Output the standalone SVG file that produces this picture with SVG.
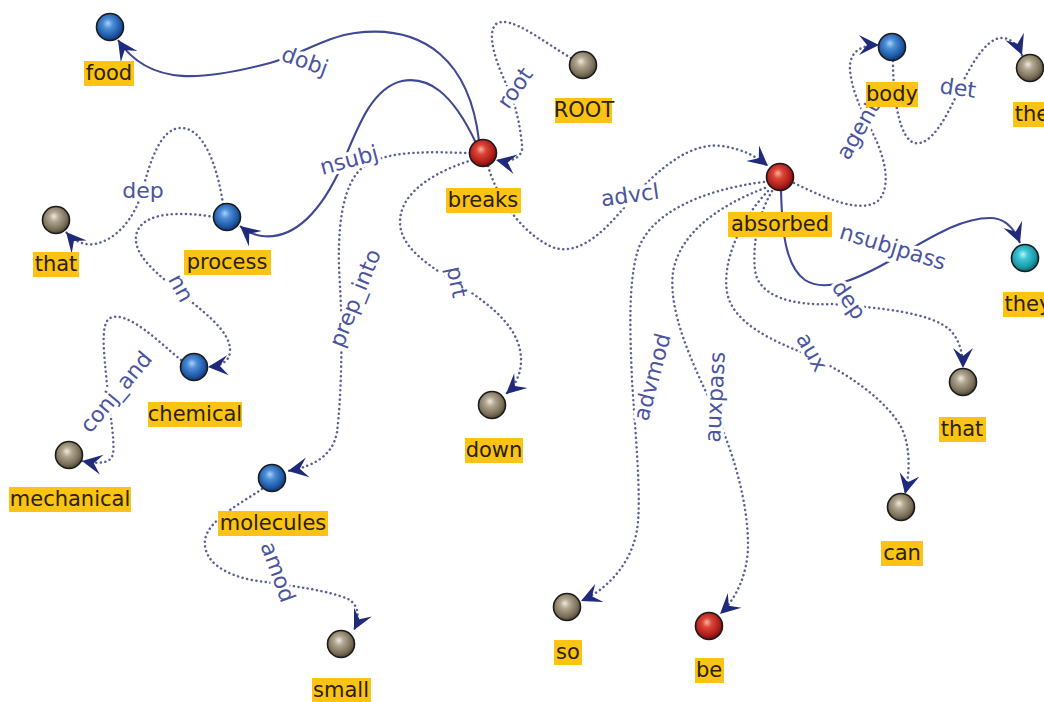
<svg xmlns="http://www.w3.org/2000/svg" width="1044" height="702" viewBox="0 0 1044 702">
  <style>
    .e { fill: none; stroke: #5a6098; stroke-width: 2.5; stroke-dasharray: 0.1 4.6; stroke-linecap: round; }
    .s { fill: none; stroke: #3f4993; stroke-width: 2.1; }
    .el { font-family: "DejaVu Sans", sans-serif; font-size: 22px; fill: #4a549f; text-anchor: middle; dominant-baseline: central; stroke: #ffffff; stroke-width: 7; stroke-linejoin: round; paint-order: stroke; }
    .ball { stroke: #1b1b1b; stroke-width: 1.6; }
    .lb { fill: #fbc314; }
    .lt { font-family: "DejaVu Sans", sans-serif; font-size: 21px; fill: #2a2200; text-anchor: middle; dominant-baseline: central; }
  </style>
  <defs>
    <radialGradient id="gBlue" cx="0.45" cy="0.42" r="0.6" fx="0.42" fy="0.36">
      <stop offset="0" stop-color="#a9d3f7"/>
      <stop offset="0.3" stop-color="#4d8dd6"/>
      <stop offset="0.75" stop-color="#1d58a6"/>
      <stop offset="1" stop-color="#0e326e"/>
    </radialGradient>
    <radialGradient id="gTan" cx="0.45" cy="0.42" r="0.6" fx="0.42" fy="0.36">
      <stop offset="0" stop-color="#f0e9dc"/>
      <stop offset="0.3" stop-color="#b1a690"/>
      <stop offset="0.75" stop-color="#7a6e58"/>
      <stop offset="1" stop-color="#463e2e"/>
    </radialGradient>
    <radialGradient id="gRed" cx="0.45" cy="0.42" r="0.6" fx="0.42" fy="0.36">
      <stop offset="0" stop-color="#f7b2a4"/>
      <stop offset="0.3" stop-color="#dc4636"/>
      <stop offset="0.75" stop-color="#ad1c1c"/>
      <stop offset="1" stop-color="#650808"/>
    </radialGradient>
    <radialGradient id="gTeal" cx="0.45" cy="0.42" r="0.6" fx="0.42" fy="0.36">
      <stop offset="0" stop-color="#b4f5f8"/>
      <stop offset="0.3" stop-color="#3fc6d6"/>
      <stop offset="0.75" stop-color="#1a97a7"/>
      <stop offset="1" stop-color="#0a5963"/>
    </radialGradient>
    <!-- barbed arrowhead, tip at the origin -->
    <marker id="arr" viewBox="-21 -11 22 22" refX="0" refY="0" markerWidth="22" markerHeight="22" markerUnits="userSpaceOnUse" orient="auto">
      <path d="M0,0 L-20,-10 L-12,0 L-20,10 Z" fill="#1f2a7a"/>
    </marker>
  </defs>

  <rect width="1044" height="702" fill="#ffffff"/>

  <!-- dependency arcs -->
  <g id="edges">
    <path class="s" marker-end="url(#arr)" d="M479,141 C470,62 425,24 355,33 C325,37 300,55 270,63 C205,80 150,88 118,40"/>
    <path class="s" marker-end="url(#arr)" d="M476,143 C452,92 428,76 402,81 C372,88 358,126 342,165 C322,210 295,240 262,236 C253,235 246,231 240,226"/>
    <path class="e" marker-end="url(#arr)" d="M223,204 C218,170 205,128 181,128 C160,128 150,162 142,192 C134,220 115,240 95,244 C83,246 73,240 66,232"/>
    <path class="e" marker-end="url(#arr)" d="M214,217 C185,212 140,210 136,236 C134,254 153,270 172,286 C198,308 232,330 230,352 C229,362 220,366 208,367"/>
    <path class="e" marker-end="url(#arr)" d="M181,360 C160,343 128,310 110,318 C100,324 104,352 107,385 C110,415 115,440 113,454 C111,464 98,464 82,461"/>
    <path class="e" marker-end="url(#arr)" d="M571,58 C545,43 510,14 496,24 C486,34 496,62 507,86 C516,105 520,125 522,145 C524,158 510,163 496,160"/>
    <path class="e" marker-end="url(#arr)" d="M488,166 C496,195 520,232 552,247 C582,258 610,225 632,198 C660,168 690,142 722,146 C742,149 756,156 768,166"/>
    <path class="e" marker-end="url(#arr)" d="M470,153 C430,152 390,150 366,165 C342,180 336,230 340,285 C343,340 341,400 337,432 C333,455 315,466 288,471"/>
    <path class="e" marker-end="url(#arr)" d="M472,160 C440,170 400,190 400,222 C400,248 430,266 455,282 C480,298 514,320 520,350 C524,370 516,385 506,394"/>
    <path class="e" marker-end="url(#arr)" d="M262,489 C240,504 208,520 205,540 C203,560 222,574 252,580 C290,586 330,590 350,600 C360,608 359,620 354,630"/>
    <path class="e" marker-end="url(#arr)" d="M794,183 C825,198 862,215 879,200 C891,186 885,160 876,140 C866,118 852,95 850,70 C849,52 860,45 879,45"/>
    <path class="e" marker-end="url(#arr)" d="M893,61 C893,100 900,140 915,143 C931,146 946,118 958,92 C970,66 985,40 1000,38 C1010,37 1018,45 1022,55"/>
    <path class="s" marker-end="url(#arr)" d="M781,190 C782,230 785,266 805,280 C826,294 860,278 895,258 C930,238 960,218 990,218 C1006,218 1015,230 1020,243"/>
    <path class="e" marker-end="url(#arr)" d="M772,191 C760,212 752,240 755,270 C758,296 792,306 832,304 C880,308 930,312 950,330 C960,340 963,355 963,368"/>
    <path class="e" marker-end="url(#arr)" d="M768,191 C740,220 722,262 727,292 C732,322 770,340 806,354 C842,370 882,396 900,425 C911,445 910,472 905,494"/>
    <path class="e" marker-end="url(#arr)" d="M765,188 C720,205 680,232 673,272 C668,312 692,362 712,405 C732,448 748,500 748,545 C748,575 735,600 720,614"/>
    <path class="e" marker-end="url(#arr)" d="M764,182 C700,190 650,214 638,250 C628,282 630,332 632,380 C635,430 642,500 637,530 C631,565 606,590 581,601"/>

    <text class="el" transform="translate(305,61) rotate(20)">dobj</text>
    <text class="el" transform="translate(349,160) rotate(-15)">nsubj</text>
    <text class="el" transform="translate(143,190)">dep</text>
    <text class="el" transform="translate(181,288) rotate(62)">nn</text>
    <text class="el" transform="translate(116,392) rotate(-50)">conj_and</text>
    <text class="el" transform="translate(515,88) rotate(-55)">root</text>
    <text class="el" transform="translate(630,195) rotate(-8)">advcl</text>
    <text class="el" transform="translate(355,298) rotate(-68)">prep_into</text>
    <text class="el" transform="translate(457,282) rotate(78)">prt</text>
    <text class="el" transform="translate(278,572) rotate(70)">amod</text>
    <text class="el" transform="translate(858,130) rotate(-60)">agent</text>
    <text class="el" transform="translate(958,88) rotate(8)">det</text>
    <text class="el" transform="translate(893,247) rotate(17)">nsubjpass</text>
    <text class="el" transform="translate(849,300) rotate(55)">dep</text>
    <text class="el" transform="translate(812,352) rotate(60)">aux</text>
    <text class="el" transform="translate(715,397) rotate(-87)">auxpass</text>
    <text class="el" transform="translate(652,377) rotate(-75)">advmod</text>
  </g>

  <!-- word nodes -->
  <g id="n-food"><circle class="ball" cx="110" cy="27" r="13.5" fill="url(#gBlue)"/><rect class="lb" x="84" y="61" width="50" height="25"/><text class="lt" x="109" y="73">food</text></g>
  <g id="n-root"><circle class="ball" cx="583" cy="65" r="13.5" fill="url(#gTan)"/><rect class="lb" x="555" y="98" width="57" height="25"/><text class="lt" x="584" y="110">ROOT</text></g>
  <g id="n-breaks"><circle class="ball" cx="483" cy="153" r="13.5" fill="url(#gRed)"/><rect class="lb" x="446" y="188" width="75" height="25"/><text class="lt" x="483" y="200">breaks</text></g>
  <g id="n-body"><circle class="ball" cx="892" cy="47" r="13.5" fill="url(#gBlue)"/><rect class="lb" x="866" y="82" width="52" height="25"/><text class="lt" x="892" y="94">body</text></g>
  <g id="n-the"><circle class="ball" cx="1030" cy="68" r="13.5" fill="url(#gTan)"/><rect class="lb" x="1013" y="102" width="40" height="25"/><text class="lt" x="1032" y="114">the</text></g>
  <g id="n-that1"><circle class="ball" cx="56" cy="220" r="13.5" fill="url(#gTan)"/><rect class="lb" x="33" y="252" width="46" height="25"/><text class="lt" x="56" y="264">that</text></g>
  <g id="n-process"><circle class="ball" cx="227" cy="217" r="13.5" fill="url(#gBlue)"/><rect class="lb" x="184" y="250" width="87" height="25"/><text class="lt" x="227" y="262">process</text></g>
  <g id="n-absorbed"><circle class="ball" cx="780" cy="177" r="13.5" fill="url(#gRed)"/><rect class="lb" x="728" y="212" width="104" height="25"/><text class="lt" x="780" y="224">absorbed</text></g>
  <g id="n-they"><circle class="ball" cx="1025" cy="258" r="13.5" fill="url(#gTeal)"/><rect class="lb" x="1003" y="292" width="50" height="25"/><text class="lt" x="1028" y="304">they</text></g>
  <g id="n-chemical"><circle class="ball" cx="194" cy="367" r="13.5" fill="url(#gBlue)"/><rect class="lb" x="148" y="402" width="94" height="25"/><text class="lt" x="195" y="414">chemical</text></g>
  <g id="n-mechanical"><circle class="ball" cx="69" cy="455" r="13.5" fill="url(#gTan)"/><rect class="lb" x="9" y="487" width="122" height="25"/><text class="lt" x="70" y="499">mechanical</text></g>
  <g id="n-down"><circle class="ball" cx="492" cy="405" r="13.5" fill="url(#gTan)"/><rect class="lb" x="465" y="438" width="58" height="25"/><text class="lt" x="494" y="450">down</text></g>
  <g id="n-that2"><circle class="ball" cx="963" cy="382" r="13.5" fill="url(#gTan)"/><rect class="lb" x="939" y="417" width="47" height="25"/><text class="lt" x="962" y="429">that</text></g>
  <g id="n-molecules"><circle class="ball" cx="272" cy="478" r="13.5" fill="url(#gBlue)"/><rect class="lb" x="218" y="511" width="110" height="25"/><text class="lt" x="273" y="523">molecules</text></g>
  <g id="n-can"><circle class="ball" cx="901" cy="507" r="13.5" fill="url(#gTan)"/><rect class="lb" x="881" y="541" width="42" height="25"/><text class="lt" x="902" y="553">can</text></g>
  <g id="n-so"><circle class="ball" cx="567" cy="607" r="13.5" fill="url(#gTan)"/><rect class="lb" x="554" y="640" width="28" height="25"/><text class="lt" x="568" y="652">so</text></g>
  <g id="n-be"><circle class="ball" cx="709" cy="626" r="13.5" fill="url(#gRed)"/><rect class="lb" x="695" y="658" width="29" height="25"/><text class="lt" x="709" y="670">be</text></g>
  <g id="n-small"><circle class="ball" cx="341" cy="644" r="13.5" fill="url(#gTan)"/><rect class="lb" x="312" y="678" width="59" height="24"/><text class="lt" x="341" y="690">small</text></g>
</svg>
